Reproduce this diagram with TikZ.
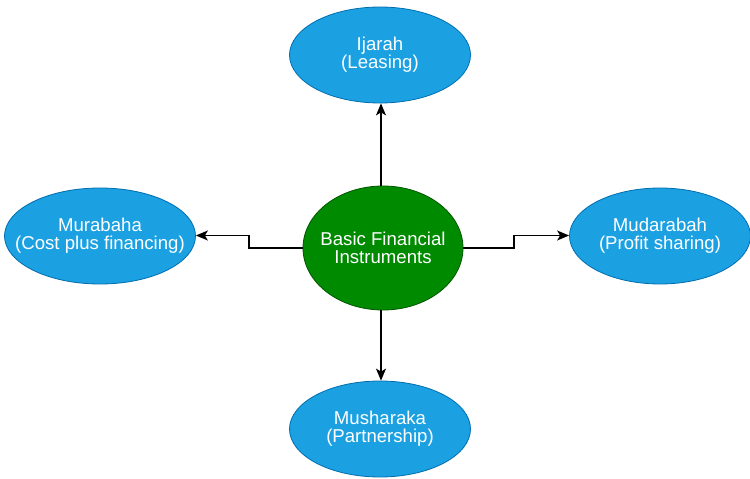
\documentclass[tikz,border=0pt]{standalone}
\usepackage{fontspec}
\setmainfont{Liberation Sans}
\usetikzlibrary{shapes.geometric,arrows.meta}
\definecolor{bluefill}{HTML}{1BA1E2}
\definecolor{blueline}{HTML}{006EAF}
\definecolor{greenfill}{HTML}{008A00}
\definecolor{greenline}{HTML}{005700}
\tikzset{
  blueell/.style={ellipse, fill=bluefill, draw=blueline, line width=0.8pt, inner sep=0pt,
    minimum width=181pt, minimum height=96pt},
  greenell/.style={ellipse, fill=greenfill, draw=greenline, line width=0.8pt, inner sep=0pt,
    minimum width=160pt, minimum height=124pt},
  lbl/.style={text=white, align=center, inner sep=0pt,
    font=\fontsize{18.6}{18}\selectfont},
  conn/.style={draw=black, line width=1.3pt, -{Stealth[length=12pt,width=10pt,inset=3pt]}}
}
\begin{document}
\begin{tikzpicture}[x=1pt,y=-1pt]
\useasboundingbox[fill=white] (0,0) rectangle (750,479);
\node[greenell] (c) at (383,248) {};
\node[blueell] (t) at (380,55) {};
\node[blueell, minimum width=191pt] (l) at (100,236) {};
\node[blueell] (r) at (660,236) {};
\node[blueell] (b) at (380,429) {};
\node[lbl] (ct) at (c) {Basic Financial\\Instruments};
\node[lbl] (tt) at (t) {Ijarah\\(Leasing)};
\node[lbl] (lt) at (l) {Murabaha\\(Cost plus financing)};
\node[lbl] (rt) at (r) {Mudarabah\\(Profit sharing)};
\node[lbl] (bt) at (b) {Musharaka\\(Partnership)};
\coordinate (l1) at (249,248);
\coordinate (l2) at (249,235.5);
\coordinate (r1) at (514,248);
\coordinate (r2) at (514,235.5);
\draw[conn] (c.north -| 381,0) -- (t.south -| 381,0);
\draw[conn] (c.south -| 381,0) -- (b.north -| 381,0);
\draw[conn] (c.west) -- (l1) -- (l2) -- (l.east |- l2);
\draw[conn] (c.east) -- (r1) -- (r2) -- (r.west |- r2);
\end{tikzpicture}
\end{document}
